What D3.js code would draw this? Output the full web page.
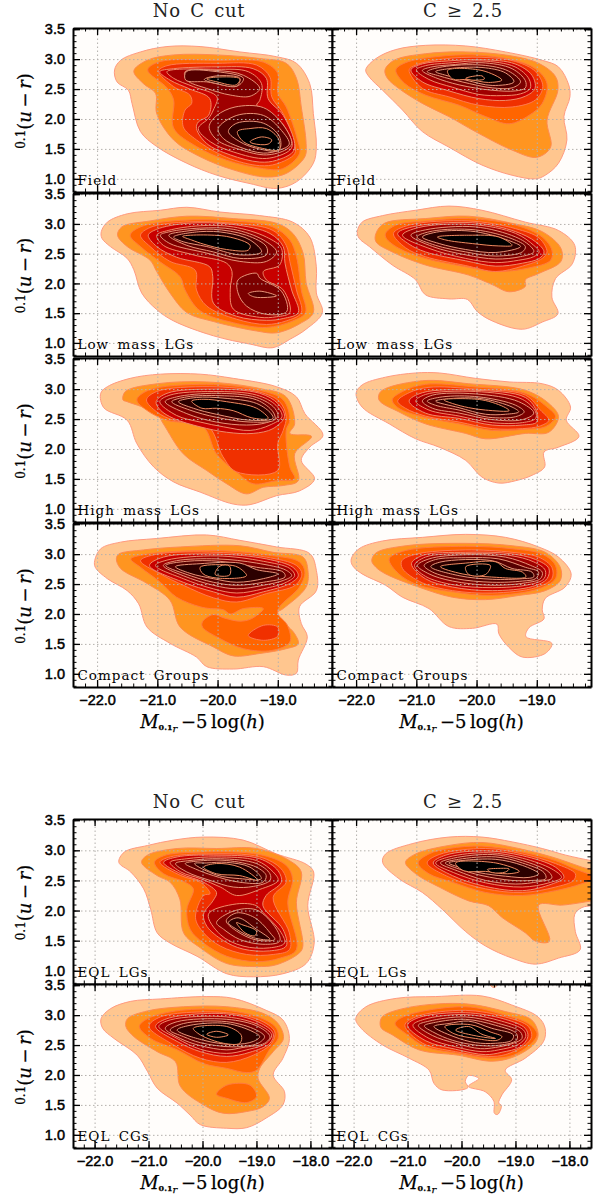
<!DOCTYPE html>
<html>
<head>
<meta charset="utf-8">
<script src="https://d3js.org/d3.v7.min.js"></script>
<style>
  html, body { margin: 0; padding: 0; background: #fff; }
  svg { display: block; }
  .tick-label text { font-family: "Liberation Sans", sans-serif; font-size: 14.5px; fill: #000; stroke: #000; stroke-width: 0.5px; }
  .title { font-family: "DejaVu Serif", serif; font-size: 18px; fill: #222; word-spacing: 3px; letter-spacing: 0.7px; }
  .panel-name { font-family: "DejaVu Serif", serif; font-size: 13.5px; fill: #000; word-spacing: 3px; letter-spacing: 1px; }
  .axis-title { font-family: "DejaVu Serif", serif; font-size: 18px; fill: #000; stroke: #000; stroke-width: 0.25px; }
</style>
</head>
<body>
<div id="chart"></div>
<script>
// Contour levels. Every entry is [level, [mag, colour, mag, colour, ...]]
var fieldAll = [
  [0, [-21.71,2.82,-21.61,2.98,-21.28,3.12,-20.84,3.21,-20.29,3.21,-19.63,3.12,-19.02,3.04,-18.69,2.93,-18.47,2.59,-18.41,2.09,-18.36,1.54,-18.41,1.26,-18.69,0.95,-19.02,0.84,-19.46,0.92,-20.01,1.06,-20.51,1.26,-21.01,1.54,-21.28,1.79,-21.42,2.26,-21.48,2.48,-21.67,2.62]],
  [1, [-21.39,2.80,-21.17,2.98,-20.73,3.07,-20.01,3.07,-19.30,3.01,-18.86,2.93,-18.69,2.68,-18.61,2.20,-18.53,1.59,-18.55,1.37,-18.86,1.09,-19.19,1.03,-19.74,1.15,-20.29,1.37,-20.73,1.65,-21.01,2.09,-21.03,2.43,-21.23,2.59]],
  [2, [-21.16,2.82,-20.95,2.96,-20.01,2.98,-19.24,2.95,-19.0,2.76,-19.0,2.43,-18.86,2.2,-18.67,1.64,-18.64,1.42,-18.92,1.17,-19.24,1.17,-19.85,1.31,-20.35,1.54,-20.73,1.85,-20.73,2.32,-20.84,2.52]],
  [3, [-20.98,2.80,-20.84,2.89,-20.01,2.93,-19.35,2.90,-19.13,2.70,-19.1,2.37,-18.91,2.09,-18.72,1.59,-18.72,1.42,-19.02,1.25,-19.3,1.22,-19.85,1.36,-20.35,1.65,-20.57,1.87,-20.54,2.15,-20.43,2.26,-20.46,2.4,-20.73,2.54]],
  [4, [-20.96,2.79,-20.73,2.84,-20.01,2.87,-19.41,2.84,-19.19,2.68,-19.16,2.34,-18.91,2.06,-18.72,1.59,-18.75,1.45,-19.02,1.31,-19.30,1.28,-19.79,1.4,-20.18,1.59,-20.35,1.84,-20.32,1.95,-20.15,2.06,-20.13,2.34,-20.46,2.5,-20.79,2.65]],
  [5, [-20.84,2.79,-20.01,2.83,-19.49,2.79,-19.27,2.59,-19.3,2.31,-19.35,2.23,-18.97,1.98,-18.76,1.59,-18.8,1.48,-19.19,1.34,-19.74,1.45,-20.12,1.62,-20.32,1.84,-20.15,2.01,-20.07,2.15,-20.01,2.37,-20.4,2.54,-20.73,2.68]],
  [6, [-20.54,2.79,-20.01,2.81,-19.57,2.73,-19.3,2.51,-19.46,2.38,-19.79,2.4,-20.18,2.51,-20.51,2.65]],
  [6, [-20.14,1.87,-20.01,2.06,-19.71,2.2,-19.24,2.19,-18.91,1.9,-18.77,1.59,-18.86,1.49,-19.19,1.4,-19.63,1.49,-20.01,1.65]],
  [7, [-20.52,2.79,-20.01,2.79,-19.57,2.68,-19.67,2.55,-20.18,2.62,-20.53,2.65]],
  [7, [-19.99,1.84,-19.68,2.06,-19.24,2.06,-18.94,1.81,-18.81,1.58,-18.97,1.48,-19.24,1.43,-19.63,1.53,-19.9,1.67]],
  [8, [-20.22,2.66,-20.01,2.72,-19.63,2.68,-19.68,2.55,-20.01,2.59]],
  [8, [-19.82,1.79,-19.68,1.93,-19.24,1.93,-18.97,1.7,-18.98,1.48,-19.35,1.51,-19.63,1.62]],
  [9, [-20.18,2.67,-20.01,2.7,-19.63,2.67,-19.69,2.57,-20.01,2.62]],
  [9, [-19.67,1.79,-19.46,1.84,-19.19,1.84,-18.99,1.67,-18.98,1.49,-19.3,1.52,-19.57,1.62]],
  [9, [-19.46,1.62,-19.27,1.7,-19.1,1.65,-19.16,1.58,-19.41,1.59]]
];
var fieldCut = [
  [0, [-21.84,2.82,-21.67,3.01,-21.34,3.16,-20.85,3.23,-20.18,3.22,-19.52,3.12,-18.91,2.98,-18.64,2.87,-18.47,2.57,-18.45,2.37,-18.55,2.04,-18.5,1.65,-18.64,1.26,-18.86,1.06,-19.02,1.0,-19.41,1.06,-19.91,1.23,-20.46,1.53,-20.9,1.79,-21.23,2.15,-21.56,2.48,-21.78,2.7]],
  [1, [-21.52,2.82,-21.37,2.98,-20.85,3.09,-20.18,3.12,-19.46,3.06,-18.97,2.93,-18.69,2.71,-18.65,2.48,-18.83,1.98,-18.77,1.53,-19.0,1.36,-19.41,1.48,-20.02,1.79,-20.46,2.04,-20.9,2.26,-21.29,2.51,-21.48,2.68]],
  [2, [-21.34,2.82,-21.18,2.94,-20.68,3.04,-20.02,3.07,-19.41,2.99,-19.02,2.84,-18.83,2.59,-18.91,2.26,-19.13,2.06,-19.46,1.92,-19.85,2.04,-20.29,2.23,-20.85,2.4,-21.2,2.6]],
  [3, [-21.12,2.82,-21.01,2.9,-20.57,3.0,-19.91,3.03,-19.35,2.96,-19.02,2.79,-18.9,2.54,-19.02,2.32,-19.41,2.2,-19.96,2.23,-20.46,2.37,-20.9,2.51]],
  [4, [-21.09,2.82,-20.9,2.92,-20.46,2.97,-19.91,2.99,-19.36,2.92,-19.08,2.73,-19.03,2.51,-19.19,2.38,-19.52,2.31,-19.96,2.34,-20.46,2.47,-20.9,2.62]],
  [5, [-21.0,2.82,-20.85,2.89,-20.4,2.94,-19.91,2.97,-19.36,2.87,-19.13,2.67,-19.11,2.51,-19.27,2.42,-19.58,2.39,-19.96,2.41,-20.4,2.53,-20.79,2.66]],
  [6, [-20.9,2.81,-20.74,2.87,-20.35,2.91,-19.91,2.94,-19.41,2.84,-19.19,2.64,-19.19,2.52,-19.35,2.47,-19.74,2.48,-20.29,2.57,-20.68,2.69]],
  [7, [-20.82,2.79,-20.57,2.87,-19.91,2.9,-19.47,2.8,-19.27,2.62,-19.41,2.52,-19.74,2.52,-20.24,2.62,-20.62,2.72]],
  [8, [-20.68,2.79,-20.46,2.84,-19.91,2.86,-19.52,2.77,-19.38,2.62,-19.74,2.56,-20.18,2.65,-20.51,2.73]],
  [9, [-20.48,2.81,-19.91,2.81,-19.58,2.65,-19.8,2.61,-20.13,2.66,-20.4,2.67]],
  [9, [-20.18,2.68,-19.91,2.72,-19.87,2.67,-20.07,2.65]]
];
var lowAll = [
  [0, [-21.93,2.87,-21.83,3.03,-21.5,3.17,-20.95,3.23,-20.51,3.28,-19.96,3.2,-19.3,3.14,-18.75,3.03,-18.47,2.78,-18.36,2.28,-18.36,1.84,-18.26,1.51,-18.53,1.23,-18.8,1.06,-19.08,0.92,-19.46,0.98,-20.07,1.12,-20.73,1.37,-21.01,1.56,-21.26,1.84,-21.39,2.23,-21.5,2.42,-21.78,2.62,-21.92,2.76]],
  [1, [-21.66,2.81,-21.59,2.95,-21.12,3.05,-20.51,3.13,-19.74,3.09,-19.02,3.01,-18.75,2.84,-18.58,2.51,-18.53,2.01,-18.41,1.51,-18.64,1.32,-19.02,1.17,-19.35,1.2,-20.07,1.36,-20.51,1.51,-20.79,1.84,-21.01,2.2,-21.12,2.39,-21.5,2.62]],
  [2, [-21.45,2.81,-21.28,2.95,-20.62,3.06,-19.74,3.05,-19.08,2.95,-18.8,2.73,-18.69,2.45,-18.61,1.89,-18.54,1.51,-18.75,1.37,-19.19,1.26,-19.74,1.34,-20.29,1.54,-20.54,1.89,-20.62,2.11,-20.95,2.36,-21.28,2.62]],
  [3, [-21.28,2.81,-21.12,2.94,-20.57,3.03,-19.74,3.01,-19.08,2.89,-18.86,2.64,-18.8,2.37,-18.69,1.89,-18.61,1.51,-18.86,1.37,-19.19,1.31,-19.69,1.4,-20.18,1.62,-20.35,1.89,-20.37,2.22,-20.79,2.37,-21.12,2.62]],
  [4, [-21.15,2.81,-21.01,2.91,-20.51,3.01,-19.74,2.99,-19.13,2.84,-18.91,2.62,-18.88,2.34,-18.77,1.89,-18.66,1.51,-18.91,1.41,-19.19,1.38,-19.69,1.45,-20.07,1.67,-20.08,2.12,-20.13,2.28,-20.68,2.44,-21.01,2.62]],
  [5, [-21.01,2.81,-20.82,2.89,-20.29,2.97,-19.74,2.95,-19.19,2.78,-18.94,2.59,-18.97,2.31,-19.24,2.2,-19.19,2.06,-18.91,1.89,-18.8,1.51,-19.02,1.44,-19.3,1.43,-19.74,1.57,-19.79,1.89,-19.76,2.2,-19.85,2.34,-20.4,2.48,-20.9,2.64]],
  [6, [-20.95,2.81,-20.79,2.87,-20.29,2.93,-19.74,2.91,-19.24,2.73,-19.02,2.53,-19.19,2.37,-19.63,2.37,-20.18,2.51,-20.79,2.67]],
  [6, [-19.66,2.06,-19.35,2.17,-19.3,2.09,-18.94,1.87,-18.85,1.53,-19.19,1.48,-19.52,1.62,-19.66,1.84]],
  [7, [-19.49,1.83,-19.3,1.87,-19.02,1.79,-19.38,1.77]],
  [7, [-20.81,2.81,-20.51,2.88,-20.07,2.91,-19.52,2.81,-19.19,2.62,-19.19,2.48,-19.63,2.42,-20.07,2.53,-20.51,2.64]],
  [8, [-20.73,2.78,-20.29,2.87,-19.85,2.85,-19.46,2.73,-19.27,2.53,-19.63,2.48,-20.18,2.62,-20.57,2.7]],
  [9, [-20.58,2.79,-19.85,2.79,-19.46,2.64,-19.49,2.56,-19.85,2.57,-20.23,2.66,-20.43,2.73]]
];
var lowCut = [
  [0, [-21.98,2.87,-21.9,3.03,-21.56,3.14,-21.01,3.23,-20.46,3.3,-19.91,3.23,-19.19,3.03,-18.64,2.89,-18.37,2.64,-18.41,2.33,-18.69,2.08,-18.75,1.77,-18.65,1.49,-18.91,1.35,-19.24,1.23,-19.74,1.37,-19.99,1.53,-20.15,1.73,-20.46,1.74,-20.85,1.81,-21.01,2.06,-21.4,2.31,-21.78,2.62,-21.95,2.76]],
  [1, [-21.67,2.84,-21.53,3.01,-20.85,3.09,-20.13,3.13,-19.41,3.01,-18.91,2.87,-18.6,2.59,-18.6,2.37,-18.96,2.17,-19.19,2.06,-19.19,1.95,-19.46,1.86,-19.74,1.98,-20.13,2.14,-20.85,2.31,-21.4,2.53,-21.67,2.7]],
  [2, [-21.51,2.84,-21.34,2.98,-20.85,3.05,-20.13,3.09,-19.35,2.98,-18.91,2.78,-18.75,2.56,-18.77,2.39,-19.13,2.26,-19.68,2.2,-20.18,2.28,-20.85,2.42,-21.29,2.59,-21.5,2.76]],
  [3, [-21.38,2.84,-21.12,2.98,-20.13,3.05,-19.35,2.92,-18.96,2.76,-18.83,2.53,-18.91,2.42,-19.24,2.29,-19.68,2.2,-20.18,2.3,-20.85,2.45,-21.18,2.6]],
  [4, [-21.31,2.84,-21.07,2.95,-20.07,3.02,-19.35,2.87,-19.02,2.7,-18.88,2.53,-18.96,2.42,-19.24,2.34,-19.68,2.29,-20.18,2.38,-20.85,2.53,-21.12,2.66]],
  [5, [-21.23,2.81,-20.96,2.94,-20.07,2.99,-19.35,2.84,-19.05,2.64,-18.96,2.53,-19.05,2.45,-19.3,2.39,-19.68,2.35,-20.18,2.42,-20.79,2.59]],
  [6, [-21.09,2.81,-20.85,2.9,-20.02,2.95,-19.35,2.78,-19.1,2.62,-19.05,2.53,-19.27,2.45,-19.68,2.41,-20.18,2.48,-20.73,2.62]],
  [7, [-20.99,2.78,-20.73,2.88,-20.02,2.9,-19.41,2.75,-19.19,2.62,-19.24,2.53,-19.68,2.46,-20.18,2.53,-20.68,2.64]],
  [8, [-20.9,2.78,-20.62,2.87,-20.02,2.87,-19.41,2.7,-19.27,2.62,-19.68,2.52,-20.18,2.57,-20.62,2.67]],
  [9, [-20.65,2.78,-20.13,2.81,-19.63,2.78,-19.41,2.64,-19.63,2.63,-20.07,2.67,-20.51,2.73]]
];
var highAll = [
  [0, [-21.94,2.93,-21.83,3.04,-21.45,3.18,-20.95,3.25,-20.29,3.25,-19.74,3.18,-19.02,3.04,-18.69,2.87,-18.55,2.59,-18.25,2.23,-18.47,2.03,-18.61,1.81,-18.39,1.5,-18.64,1.3,-19.02,1.22,-19.46,1.07,-19.74,1.08,-20.29,1.28,-20.73,1.45,-21.06,1.7,-21.34,2.09,-21.5,2.48,-21.89,2.69]],
  [1, [-21.57,2.82,-21.53,2.96,-21.0,3.09,-20.18,3.12,-19.3,3.01,-18.86,2.87,-18.72,2.42,-18.8,2.26,-18.44,2.21,-18.72,1.92,-18.66,1.47,-18.91,1.39,-19.24,1.36,-19.52,1.25,-19.85,1.42,-20.18,1.64,-20.57,1.92,-20.9,2.42,-21.01,2.59,-21.5,2.79]],
  [2, [-21.34,2.82,-21.15,2.98,-20.18,3.08,-19.3,2.98,-18.91,2.82,-18.8,2.48,-18.86,2.31,-18.8,1.7,-18.72,1.5,-19.02,1.47,-19.41,1.42,-19.69,1.62,-20.02,1.92,-20.24,2.37,-20.84,2.48,-21.18,2.65]],
  [3, [-21.18,2.82,-21.01,2.96,-20.13,3.04,-19.3,2.95,-18.97,2.79,-18.86,2.54,-18.91,2.31,-19.0,2.09,-19.0,1.64,-19.69,1.62,-19.91,1.87,-20.15,2.37,-20.73,2.48,-21.01,2.62]],
  [4, [-21.02,2.79,-20.84,2.93,-20.07,3.0,-19.3,2.93,-19.0,2.76,-18.89,2.54,-19.08,2.34,-19.41,2.26,-19.85,2.28,-20.29,2.37,-20.73,2.51,-20.95,2.65]],
  [5, [-20.96,2.79,-20.79,2.9,-20.07,2.96,-19.35,2.9,-19.03,2.73,-18.93,2.54,-19.13,2.4,-19.46,2.31,-19.9,2.37,-20.29,2.45,-20.68,2.56]],
  [6, [-20.87,2.79,-20.68,2.87,-20.02,2.93,-19.35,2.86,-19.05,2.68,-19.0,2.54,-19.19,2.44,-19.52,2.4,-20.02,2.45,-20.51,2.59]],
  [7, [-20.76,2.79,-20.51,2.87,-19.96,2.89,-19.35,2.82,-19.08,2.62,-19.05,2.49,-19.46,2.45,-20.02,2.53,-20.46,2.65]],
  [8, [-20.65,2.79,-20.35,2.86,-19.91,2.85,-19.35,2.76,-19.11,2.59,-19.08,2.51,-19.46,2.48,-20.02,2.58,-20.4,2.68]],
  [9, [-20.43,2.8,-20.24,2.83,-19.85,2.79,-19.35,2.68,-19.16,2.51,-19.43,2.52,-19.74,2.64,-20.02,2.68,-20.26,2.68]]
];
var highCut = [
  [0, [-22.0,2.93,-21.9,3.07,-21.51,3.2,-21.01,3.27,-20.62,3.27,-20.02,3.18,-19.46,3.12,-18.91,3.09,-18.64,2.98,-18.44,2.7,-18.51,2.48,-18.3,2.21,-18.64,2.03,-18.88,1.95,-18.87,1.7,-19.08,1.56,-19.35,1.47,-19.63,1.43,-19.91,1.53,-20.18,1.81,-20.62,2.03,-21.01,2.17,-21.45,2.42,-21.9,2.7]],
  [1, [-21.62,2.82,-21.59,2.96,-20.9,3.14,-20.13,3.09,-19.19,2.98,-18.8,2.76,-18.64,2.54,-18.8,2.28,-19.19,2.26,-19.85,2.17,-20.18,2.26,-20.85,2.42,-21.29,2.62]],
  [2, [-21.4,2.82,-21.23,2.96,-20.85,3.08,-20.07,3.04,-19.19,2.93,-18.83,2.7,-18.69,2.54,-18.86,2.37,-19.19,2.33,-19.74,2.31,-20.29,2.42,-20.9,2.54,-21.29,2.68]],
  [3, [-21.31,2.8,-21.12,2.94,-20.79,3.03,-20.02,3.0,-19.19,2.9,-18.94,2.65,-18.8,2.48,-18.96,2.38,-19.24,2.34,-19.74,2.34,-20.29,2.45,-20.85,2.55,-21.18,2.68]],
  [4, [-21.12,2.8,-20.9,2.94,-20.02,2.98,-19.19,2.86,-19.0,2.62,-19.0,2.45,-19.24,2.4,-19.74,2.4,-20.29,2.51,-20.85,2.6]],
  [5, [-21.01,2.8,-20.85,2.91,-20.02,2.96,-19.24,2.83,-19.02,2.62,-19.02,2.51,-19.24,2.44,-19.74,2.44,-20.29,2.55,-20.79,2.65]],
  [6, [-20.9,2.8,-20.73,2.9,-20.02,2.92,-19.3,2.79,-19.05,2.6,-19.24,2.49,-19.74,2.49,-20.29,2.6,-20.73,2.68]],
  [7, [-20.82,2.8,-20.57,2.87,-19.96,2.87,-19.35,2.73,-19.21,2.62,-19.35,2.54,-19.8,2.53,-20.29,2.65,-20.68,2.73]],
  [8, [-20.68,2.8,-20.46,2.84,-19.91,2.84,-19.41,2.7,-19.3,2.62,-19.52,2.58,-19.85,2.58,-20.29,2.69]],
  [9, [-20.54,2.82,-19.91,2.82,-19.52,2.69,-19.46,2.64,-19.85,2.65,-20.13,2.69,-20.4,2.76]]
];
var compactAll = [
  [0, [-22.04,2.89,-21.94,3.09,-21.61,3.2,-21.02,3.26,-20.18,3.32,-19.63,3.23,-19.02,3.12,-18.47,3.01,-18.36,2.73,-18.36,2.39,-18.64,2.12,-18.61,1.84,-18.51,1.62,-18.66,1.23,-18.69,1.01,-18.86,0.98,-19.24,1.12,-19.74,1.08,-20.18,1.12,-20.35,1.28,-20.79,1.51,-21.17,1.78,-21.31,2.17,-21.5,2.39,-21.83,2.59,-22.03,2.78]],
  [1, [-21.68,2.92,-21.64,3.0,-21.23,3.07,-20.62,3.12,-19.63,3.14,-19.08,3.03,-18.58,2.95,-18.5,2.73,-18.53,2.45,-18.91,2.09,-19.02,2.01,-18.72,1.67,-18.66,1.5,-18.86,1.42,-19.3,1.34,-19.74,1.3,-20.07,1.45,-20.62,1.78,-20.79,2.23,-21.17,2.51,-21.61,2.76]],
  [2, [-21.44,2.92,-21.28,2.98,-20.9,3.03,-20.01,3.06,-19.13,2.98,-18.64,2.87,-18.55,2.7,-18.64,2.45,-18.97,2.12,-19.0,2.01,-18.84,1.81,-18.8,1.53,-19.1,1.39,-19.57,1.42,-19.96,1.59,-20.25,1.78,-20.25,1.87,-20.07,1.99,-19.88,1.93,-19.63,1.88,-19.44,1.92,-19.24,2.09,-19.57,2.09,-19.79,2.0,-19.9,2.07,-20.12,2.09,-20.29,2.12,-20.68,2.28,-20.95,2.53,-21.28,2.78]],
  [3, [-21.28,2.89,-21.0,3.0,-20.01,3.03,-19.19,2.95,-18.69,2.81,-18.6,2.67,-18.71,2.48,-19.19,2.34,-19.68,2.2,-20.07,2.27,-20.57,2.48,-20.95,2.67]],
  [3, [-19.49,1.64,-19.24,1.81,-19.0,1.78,-19.0,1.63,-19.24,1.56]],
  [4, [-21.13,2.81,-20.9,2.95,-20.01,3.0,-19.19,2.92,-18.75,2.78,-18.66,2.64,-18.8,2.51,-19.24,2.37,-19.68,2.28,-20.07,2.37,-20.57,2.53]],
  [5, [-21.03,2.81,-20.84,2.9,-20.01,2.97,-19.24,2.88,-18.8,2.76,-18.72,2.64,-18.86,2.53,-19.24,2.42,-19.68,2.35,-20.07,2.42,-20.57,2.59]],
  [6, [-20.9,2.81,-20.68,2.89,-20.01,2.92,-19.35,2.85,-18.86,2.73,-18.77,2.64,-18.91,2.56,-19.24,2.48,-19.68,2.42,-20.07,2.48,-20.57,2.64]],
  [7, [-20.86,2.81,-20.51,2.88,-19.96,2.88,-19.35,2.78,-18.91,2.7,-18.88,2.62,-19.24,2.53,-19.68,2.48,-20.07,2.53,-20.54,2.67]],
  [8, [-20.7,2.79,-20.29,2.84,-19.63,2.85,-19.35,2.74,-19.0,2.67,-19.24,2.59,-19.68,2.53,-20.07,2.59,-20.46,2.68]],
  [9, [-20.29,2.78,-19.85,2.82,-19.66,2.78,-19.52,2.64,-20.01,2.6,-20.24,2.67]],
  [9, [-20.04,2.66,-19.96,2.8,-19.8,2.8,-19.8,2.65]]
];
var compactCut = [
  [0, [-22.08,2.92,-21.95,3.09,-21.56,3.22,-20.9,3.28,-20.18,3.33,-19.52,3.28,-18.97,3.12,-18.64,2.95,-18.43,2.67,-18.53,2.45,-18.86,2.26,-18.91,2.07,-18.88,1.92,-19.13,1.77,-19.18,1.62,-18.75,1.51,-18.86,1.34,-19.24,1.28,-19.46,1.44,-19.63,1.67,-19.66,1.83,-20.07,1.76,-20.46,1.79,-20.79,2.09,-21.23,2.28,-21.51,2.48,-21.9,2.67,-22.06,2.81]],
  [1, [-21.74,2.89,-21.67,3.02,-21.17,3.14,-20.18,3.18,-19.41,3.14,-18.86,3.03,-18.61,2.78,-18.61,2.56,-18.86,2.39,-19.3,2.31,-19.85,2.24,-20.4,2.28,-20.96,2.45,-21.51,2.67,-21.67,2.78]],
  [2, [-21.45,2.92,-21.18,3.06,-20.18,3.13,-19.41,3.09,-18.91,3.0,-18.69,2.81,-18.69,2.59,-18.97,2.42,-19.74,2.31,-20.4,2.37,-20.96,2.48,-21.29,2.67]],
  [3, [-21.24,2.89,-21.0,3.0,-20.18,3.07,-19.41,3.03,-18.97,2.95,-18.75,2.78,-18.75,2.59,-19.02,2.44,-19.74,2.35,-20.4,2.39,-20.9,2.52,-21.23,2.76]],
  [4, [-21.08,2.84,-20.89,2.98,-20.18,3.03,-19.46,3.01,-19.02,2.91,-18.8,2.76,-18.83,2.59,-19.07,2.46,-19.74,2.39,-20.4,2.45,-20.85,2.59]],
  [5, [-21.03,2.81,-20.85,2.95,-20.18,3.01,-19.46,2.98,-19.05,2.87,-18.86,2.73,-18.88,2.59,-19.13,2.49,-19.74,2.44,-20.4,2.49,-20.85,2.63]],
  [6, [-20.98,2.81,-20.79,2.92,-20.18,2.99,-19.52,2.95,-19.1,2.81,-18.91,2.7,-18.94,2.59,-19.19,2.52,-19.74,2.48,-20.4,2.55,-20.79,2.67]],
  [7, [-20.87,2.81,-20.68,2.91,-20.18,2.94,-19.63,2.92,-19.19,2.78,-18.97,2.7,-19.02,2.59,-19.24,2.55,-19.74,2.53,-20.35,2.59,-20.73,2.7]],
  [8, [-20.76,2.79,-20.59,2.87,-19.74,2.89,-19.41,2.76,-19.08,2.7,-19.05,2.62,-19.24,2.59,-19.74,2.58,-20.29,2.64]],
  [9, [-20.6,2.79,-20.18,2.85,-19.68,2.87,-19.52,2.76,-19.24,2.7,-19.18,2.62,-19.79,2.62,-20.24,2.67]],
  [9, [-20.18,2.79,-19.77,2.81,-19.85,2.66,-20.13,2.66]]
];
var eqlLgAll = [
  [0, [-21.55,2.8,-21.45,2.97,-21.02,3.08,-20.53,3.17,-19.98,3.22,-19.25,3.17,-18.63,2.94,-18.08,2.77,-17.94,2.64,-18.05,2.08,-17.93,1.46,-18.08,1.12,-18.51,0.95,-19.06,0.9,-19.55,0.95,-20.1,1.24,-20.6,1.46,-20.84,1.63,-20.96,2.02,-21.09,2.36,-21.33,2.64]],
  [1, [-21.13,2.8,-21.02,2.92,-20.47,3.03,-19.74,3.03,-19.0,3.03,-18.39,2.83,-18.17,2.64,-18.26,2.13,-18.14,1.41,-18.2,1.3,-18.63,1.1,-19.0,1.07,-19.55,1.12,-20.04,1.38,-20.35,1.63,-20.42,2.19,-20.6,2.47,-20.84,2.58]],
  [2, [-20.89,2.8,-20.72,2.91,-20.04,2.97,-18.94,2.93,-18.45,2.75,-18.33,2.53,-18.42,2.13,-18.26,1.35,-18.56,1.21,-19.0,1.15,-19.55,1.24,-19.98,1.46,-20.23,1.69,-20.29,2.02,-20.17,2.36,-20.32,2.47,-20.72,2.61]],
  [3, [-20.79,2.8,-20.6,2.89,-19.92,2.94,-18.94,2.89,-18.54,2.69,-18.45,2.47,-18.69,2.22,-18.39,1.63,-18.39,1.35,-18.69,1.27,-19.18,1.27,-19.67,1.41,-19.98,1.63,-20.13,1.88,-19.98,2.25,-19.86,2.28,-20.04,2.47,-20.4,2.58]],
  [4, [-20.72,2.8,-20.47,2.89,-19.8,2.92,-18.94,2.86,-18.6,2.66,-18.54,2.47,-18.82,2.25,-18.88,2.08,-18.51,1.69,-18.45,1.41,-18.76,1.33,-19.25,1.36,-19.61,1.5,-19.92,1.74,-19.98,1.94,-19.8,2.17,-19.74,2.3,-19.98,2.47,-20.4,2.61]],
  [5, [-20.6,2.8,-20.29,2.86,-19.74,2.89,-19.0,2.83,-18.69,2.64,-18.6,2.5,-18.94,2.35,-19.37,2.25,-19.67,2.39,-20.04,2.53,-20.4,2.64]],
  [5, [-19.89,1.94,-19.37,2.11,-19.0,2.08,-18.88,1.97,-18.54,1.63,-18.48,1.46,-18.76,1.38,-19.25,1.41,-19.67,1.6]],
  [6, [-20.5,2.78,-20.23,2.83,-19.67,2.86,-19.0,2.78,-18.75,2.61,-18.75,2.5,-19.06,2.4,-19.43,2.39,-19.86,2.5,-20.29,2.64]],
  [6, [-19.74,1.8,-19.43,1.99,-19.0,2.01,-18.63,1.69,-18.57,1.49,-18.88,1.44,-19.31,1.52,-19.61,1.69]],
  [7, [-20.32,2.78,-20.1,2.82,-19.55,2.83,-19.0,2.72,-18.82,2.58,-18.88,2.47,-19.31,2.47,-19.8,2.58,-20.13,2.69]],
  [7, [-19.56,1.83,-19.37,1.96,-19.03,1.88,-18.72,1.6,-18.66,1.52,-19.0,1.51,-19.37,1.66]],
  [8, [-20.15,2.78,-19.92,2.79,-19.55,2.8,-19.12,2.72,-18.91,2.53,-19.31,2.53,-19.74,2.59]],
  [8, [-19.52,1.8,-19.34,1.88,-19.0,1.69,-18.75,1.52,-19.06,1.55,-19.37,1.69]],
  [9, [-19.98,2.72,-19.74,2.78,-19.31,2.72,-18.97,2.5,-19.31,2.58,-19.74,2.61]],
  [9, [-19.37,1.8,-19.28,1.77,-19.0,1.66,-19.03,1.58,-19.21,1.63]]
];
var eqlLgCut = [
  [0, [-21.56,2.8,-21.51,2.94,-21.07,3.11,-20.46,3.22,-19.91,3.22,-19.41,3.14,-18.91,3.03,-18.52,2.92,-18.1,2.83,-17.9,2.8,-17.9,2.1,-18.08,2.08,-18.25,2.05,-18.37,1.94,-18.36,1.65,-18.28,1.35,-18.64,1.21,-19.02,1.11,-19.41,1.21,-19.85,1.41,-20.18,1.65,-20.57,2.02,-20.9,2.3,-21.29,2.53]],
  [1, [-21.18,2.8,-21.01,2.94,-20.46,3.08,-19.91,3.13,-19.3,3.03,-18.75,2.89,-18.25,2.72,-17.9,2.6,-17.9,2.18,-18.08,2.16,-18.58,2.09,-18.97,2.09,-18.79,1.49,-19.02,1.49,-19.19,1.63,-19.57,1.88,-19.8,2.08,-20.13,2.16,-20.62,2.39,-21.01,2.61]],
  [2, [-20.97,2.79,-20.79,2.94,-20.46,3.03,-19.91,3.07,-19.24,2.97,-18.69,2.83,-18.36,2.69,-18.1,2.6,-17.9,2.58,-18.1,2.5,-18.36,2.41,-18.69,2.33,-19.24,2.25,-19.85,2.3,-20.4,2.47,-20.79,2.61]],
  [3, [-20.82,2.79,-20.62,2.93,-19.85,3.03,-19.24,2.94,-18.69,2.78,-18.36,2.61,-18.39,2.5,-18.69,2.39,-19.24,2.3,-19.85,2.36,-20.4,2.53]],
  [4, [-20.72,2.79,-20.51,2.92,-19.85,2.99,-19.24,2.91,-18.69,2.72,-18.55,2.55,-18.75,2.44,-19.24,2.33,-19.85,2.4,-20.4,2.58]],
  [5, [-20.68,2.79,-20.46,2.89,-19.8,2.96,-19.24,2.87,-18.75,2.69,-18.59,2.55,-18.8,2.46,-19.24,2.39,-19.85,2.46,-20.38,2.63]],
  [6, [-20.6,2.79,-20.38,2.87,-19.74,2.93,-19.24,2.83,-18.8,2.64,-18.75,2.54,-18.97,2.48,-19.35,2.44,-19.85,2.5,-20.32,2.66]],
  [7, [-20.52,2.79,-20.3,2.85,-19.68,2.89,-19.24,2.79,-18.88,2.63,-18.85,2.53,-19.08,2.5,-19.41,2.5,-19.91,2.58,-20.29,2.69]],
  [8, [-20.46,2.79,-20.24,2.83,-19.68,2.85,-19.24,2.75,-18.97,2.61,-19.13,2.55,-19.52,2.57,-19.96,2.63,-20.29,2.72]],
  [9, [-20.35,2.79,-19.68,2.79,-19.29,2.65,-19.49,2.61,-19.85,2.65,-20.21,2.66]],
  [9, [-19.82,2.68,-19.63,2.7,-19.46,2.69,-19.52,2.64,-19.74,2.63]]
];
var eqlCgAll = [
  [0, [-21.88,2.94,-21.7,3.11,-21.33,3.23,-20.78,3.27,-19.92,3.31,-19.43,3.28,-18.82,3.08,-18.51,2.92,-18.39,2.61,-18.51,2.28,-18.69,2.0,-18.48,1.72,-18.51,1.5,-18.82,1.28,-19.18,1.12,-19.55,1.11,-20.04,1.17,-20.23,1.33,-20.47,1.53,-20.84,1.78,-21.02,2.06,-21.21,2.33,-21.64,2.61,-21.85,2.78]],
  [1, [-21.42,2.81,-21.39,2.94,-21.02,3.07,-20.35,3.14,-19.55,3.14,-18.88,3.03,-18.6,2.86,-18.5,2.61,-18.69,2.39,-18.94,2.11,-18.97,1.94,-18.76,1.61,-18.88,1.47,-19.18,1.39,-19.61,1.36,-19.98,1.5,-20.41,1.81,-20.5,2.22,-20.84,2.39,-21.27,2.64]],
  [2, [-21.17,2.81,-21.02,2.94,-20.41,3.08,-19.55,3.08,-18.88,2.94,-18.63,2.78,-18.6,2.61,-18.76,2.42,-19.0,2.08,-19.18,2.04,-19.55,2.11,-19.98,2.19,-20.47,2.42,-20.96,2.61]],
  [2, [-19.74,1.68,-19.55,1.83,-19.12,1.83,-19.0,1.64,-19.18,1.54,-19.55,1.61]],
  [3, [-20.99,2.81,-20.78,2.97,-19.55,3.04,-18.88,2.89,-18.66,2.72,-18.72,2.53,-19.06,2.33,-19.55,2.21,-20.04,2.28,-20.53,2.5]],
  [4, [-20.87,2.81,-20.66,2.94,-19.55,3.02,-18.91,2.86,-18.69,2.69,-18.75,2.53,-19.12,2.38,-19.55,2.31,-20.04,2.39,-20.47,2.56]],
  [5, [-20.81,2.81,-20.6,2.92,-19.55,2.97,-18.94,2.83,-18.72,2.67,-18.82,2.53,-19.18,2.42,-19.55,2.36,-20.04,2.43,-20.47,2.61]],
  [6, [-20.69,2.78,-20.47,2.89,-19.55,2.93,-18.97,2.81,-18.75,2.64,-18.85,2.53,-19.25,2.46,-19.55,2.42,-20.04,2.49,-20.41,2.61]],
  [7, [-20.6,2.75,-20.35,2.86,-19.55,2.89,-19.0,2.75,-18.85,2.64,-18.97,2.53,-19.43,2.47,-20.04,2.54,-20.35,2.64]],
  [8, [-20.47,2.75,-20.23,2.83,-19.55,2.86,-19.06,2.72,-18.94,2.64,-19.06,2.56,-19.43,2.51,-19.98,2.58]],
  [9, [-20.17,2.78,-19.55,2.81,-19.28,2.66,-19.31,2.53,-19.61,2.53,-20.04,2.67]],
  [9, [-19.92,2.68,-19.74,2.73,-19.52,2.67,-19.74,2.63]]
];
var eqlCgCut = [
  [0, [-19.51,3.56,-19.3,3.56,-19.4,3.46]],
  [0, [-21.96,2.94,-21.77,3.14,-21.21,3.28,-20.48,3.31,-19.62,3.32,-19.07,3.17,-18.58,2.97,-18.45,2.78,-18.48,2.56,-18.82,2.28,-19.19,2.08,-19.07,1.92,-19.25,1.67,-19.31,1.53,-19.26,1.49,-19.33,1.34,-19.39,1.36,-19.4,1.56,-19.56,1.72,-19.87,1.81,-19.68,1.94,-19.87,1.99,-19.93,1.89,-19.88,1.79,-20.36,1.75,-20.51,1.86,-20.6,2.08,-20.97,2.28,-21.46,2.5,-21.86,2.78]],
  [1, [-21.5,2.92,-21.43,3.0,-20.91,3.14,-19.93,3.19,-19.19,3.06,-18.7,2.92,-18.58,2.69,-18.64,2.53,-19.01,2.31,-19.44,2.23,-20.06,2.33,-20.79,2.42,-21.28,2.67,-21.49,2.79]],
  [2, [-21.23,2.86,-21.03,2.99,-19.93,3.14,-19.19,3.0,-18.76,2.86,-18.6,2.69,-18.67,2.56,-19.04,2.33,-19.44,2.28,-20.06,2.36,-20.67,2.47,-21.03,2.69]],
  [3, [-21.05,2.83,-20.85,2.97,-19.93,3.08,-19.19,2.97,-18.76,2.81,-18.7,2.64,-18.82,2.5,-19.19,2.34,-19.5,2.31,-20.11,2.39,-20.72,2.53]],
  [4, [-21.0,2.83,-20.79,2.96,-19.93,3.04,-19.19,2.93,-18.82,2.78,-18.77,2.64,-18.91,2.47,-19.25,2.38,-19.56,2.34,-20.11,2.43,-20.66,2.57]],
  [5, [-20.9,2.83,-20.69,2.93,-19.93,3.01,-19.26,2.9,-18.85,2.75,-18.81,2.64,-18.95,2.51,-19.31,2.42,-19.62,2.39,-20.11,2.47,-20.6,2.61]],
  [6, [-20.8,2.83,-20.6,2.9,-19.93,2.97,-19.31,2.86,-18.91,2.72,-18.88,2.61,-19.04,2.53,-19.37,2.46,-19.65,2.44,-20.11,2.53,-20.54,2.66]],
  [7, [-20.69,2.82,-20.48,2.88,-19.93,2.93,-19.37,2.83,-18.98,2.69,-18.98,2.58,-19.37,2.49,-19.74,2.5,-20.17,2.58,-20.51,2.71]],
  [8, [-20.51,2.81,-20.23,2.86,-19.87,2.9,-19.44,2.78,-19.04,2.67,-19.07,2.58,-19.37,2.53,-19.74,2.54,-20.14,2.64]],
  [9, [-20.31,2.81,-19.83,2.84,-19.47,2.72,-19.25,2.64,-19.34,2.58,-19.74,2.61,-20.14,2.69]],
  [9, [-20.11,2.75,-19.87,2.81,-19.62,2.68,-19.37,2.61,-19.77,2.66]]
];

var levelColors = ["#FFC68F", "#FF9520", "#FF6500", "#F03000", "#C80000", "#A00000", "#7C0000", "#560000", "#2C0000", "#000000"];
var lineColors = ["#FF9A80", "#FF8A50", "#FF7A40", "#FF7A50", "#F08A68", "#F08A68", "#E89478", "#E89478", "#E89478", "#F08A60"];

var magTicksUpper = [-22, -21, -20, -19];
var magTicksLower = [-22, -21, -20, -19, -18];
var colourTicks = [1, 1.5, 2, 2.5, 3, 3.5];
var titles = ["No C cut", "C \u2265 2.5"];

// Panels: [contours, name, left, top, height, mag max, show x labels]
var panels = [
  [fieldAll, "Field", 73, 28, 164, -18.1, 0],
  [fieldCut, "Field", 332, 28, 164, -18.1, 0],
  [lowAll, "Low mass LGs", 73, 193, 163, -18.1, 0],
  [lowCut, "Low mass LGs", 332, 193, 163, -18.1, 0],
  [highAll, "High mass LGs", 73, 358, 164, -18.1, 0],
  [highCut, "High mass LGs", 332, 358, 164, -18.1, 0],
  [compactAll, "Compact Groups", 73, 523, 164, -18.1, 1],
  [compactCut, "Compact Groups", 332, 523, 164, -18.1, 1],
  [eqlLgAll, "EQL LGs", 73, 819, 165, -17.6, 0],
  [eqlLgCut, "EQL LGs", 332, 819, 165, -18.1, 0],
  [eqlCgAll, "EQL CGs", 73, 984, 164, -17.6, 1],
  [eqlCgCut, "EQL CGs", 332, 984, 164, -17.6, 1]
];

var panelWidth = 259;

var svg = d3.select("#chart")
  .append("svg")
  .attr("width", 610)
  .attr("height", 1196);

var defs = svg.append("defs");

var contourLine = d3.line()
  .x(d => d.x)
  .y(d => d.y)
  .curve(d3.curveCatmullRomClosed.alpha(0.5));

panels.forEach(function(p, i) {
  var contours = p[0], name = p[1], left = p[2], top = p[3], height = p[4], magMax = p[5], showX = p[6];
  var isLeft = left < 100;

  var x = d3.scaleLinear().domain([-22.4, magMax]).range([0, panelWidth]);
  var y = d3.scaleLinear().domain([0.78, 3.52]).range([height, 0]);

  var g = svg.append("g").attr("transform", `translate(${left}, ${top})`);

  defs.append("clipPath").attr("id", "clip" + i)
    .append("rect").attr("width", panelWidth).attr("height", height);

  g.append("rect").attr("width", panelWidth).attr("height", height).attr("fill", "#FFFDFB");

  // Filled contours, lighter first
  var fills = g.append("g").attr("clip-path", `url(#clip${i})`);
  contours.forEach(function(c) {
    var pts = [];
    for (var k = 0; k < c[1].length; k += 2) {
      pts.push({ x: x(c[1][k]), y: y(c[1][k + 1]) });
    }
    fills.append("path")
      .attr("d", contourLine(pts))
      .attr("fill", levelColors[c[0]])
      .attr("stroke", lineColors[c[0]])
      .attr("stroke-width", 1);
  });

  var magTicks = magMax > -18 ? magTicksLower : magTicksUpper;

  // Dotted grid on top of the contours
  var gridX = g.append("g").attr("transform", `translate(0, ${height})`)
    .call(d3.axisBottom(x).tickValues(magTicks).tickSize(-height).tickFormat(""));
  var gridY = g.append("g")
    .call(d3.axisLeft(y).tickValues(colourTicks).tickSize(-panelWidth).tickFormat(""));
  [gridX, gridY].forEach(function(a) {
    a.select(".domain").remove();
    a.selectAll("line").attr("stroke", "#B4B0AC").attr("stroke-width", 1).attr("stroke-dasharray", "1.5,2.5");
  });

  var minorMag = d3.range(-22.4, magMax, 0.2);
  var minorColour = d3.range(0.8, 3.51, 0.1);

  // Minor ticks, all four sides
  g.append("g").attr("class", "minor").attr("transform", `translate(0, ${height})`)
    .call(d3.axisBottom(x).tickValues(minorMag).tickSize(-3.5).tickFormat("").tickSizeOuter(0));
  g.append("g").attr("class", "minor")
    .call(d3.axisTop(x).tickValues(minorMag).tickSize(-3.5).tickFormat("").tickSizeOuter(0));
  g.append("g").attr("class", "minor")
    .call(d3.axisLeft(y).tickValues(minorColour).tickSize(-3.5).tickFormat("").tickSizeOuter(0));
  g.append("g").attr("class", "minor").attr("transform", `translate(${panelWidth}, 0)`)
    .call(d3.axisRight(y).tickValues(minorColour).tickSize(-3.5).tickFormat("").tickSizeOuter(0));

  // Major ticks and frame
  g.append("g").attr("class", "major tick-label").attr("transform", `translate(0, ${height})`)
    .call(d3.axisBottom(x).tickValues(magTicks).tickSize(-7).tickPadding(8).tickSizeOuter(0)
      .tickFormat(showX ? d3.format(".1f") : ""));
  g.append("g").attr("class", "major")
    .call(d3.axisTop(x).tickValues(magTicks).tickSize(-7).tickFormat("").tickSizeOuter(0));
  g.append("g").attr("class", "major tick-label")
    .call(d3.axisLeft(y).tickValues(colourTicks).tickSize(-7).tickPadding(8).tickSizeOuter(0)
      .tickFormat(isLeft ? d3.format(".1f") : ""));
  g.append("g").attr("class", "major").attr("transform", `translate(${panelWidth}, 0)`)
    .call(d3.axisRight(y).tickValues(colourTicks).tickSize(-7).tickFormat("").tickSizeOuter(0));

  g.selectAll(".minor line").attr("stroke", "#000").attr("stroke-width", 1);
  g.selectAll(".minor .domain").remove();
  g.selectAll(".major line").attr("stroke", "#000").attr("stroke-width", 1.3);
  g.selectAll(".major .domain").attr("stroke", "#000").attr("stroke-width", 2);

  // Panel name
  g.append("text").attr("class", "panel-name")
    .attr("x", 4.5).attr("y", height - 7)
    .text(name);

  // y axis title
  if (isLeft) {
    var yTitle = g.append("text").attr("class", "axis-title")
      .attr("transform", `translate(-42, ${height / 2 + 1}) rotate(-90)`)
      .attr("text-anchor", "middle");
    yTitle.append("tspan").attr("font-size", 12).attr("dy", -6).text("0.1");
    yTitle.append("tspan").attr("dy", 6).text("(");
    yTitle.append("tspan").attr("font-style", "italic").text("u");
    yTitle.append("tspan").text("\u2009\u2212\u2009");
    yTitle.append("tspan").attr("font-style", "italic").text("r");
    yTitle.append("tspan").text(")");
  }

  // x axis title
  if (showX) {
    var xTitle = g.append("text").attr("class", "axis-title")
      .attr("x", panelWidth / 2).attr("y", height + 41)
      .attr("text-anchor", "middle");
    xTitle.append("tspan").attr("font-style", "italic").text("M");
    xTitle.append("tspan").attr("font-size", 8).attr("dy", 2).attr("font-weight", "bold").text("0.1");
    xTitle.append("tspan").attr("font-size", 10).attr("dy", 2).attr("font-style", "italic").text("r");
    xTitle.append("tspan").attr("dy", -4).text("\u2009\u22125\u2009log(");
    xTitle.append("tspan").attr("font-style", "italic").text("h");
    xTitle.append("tspan").text(")");
  }
});

// Column titles above both figures
[17, 808].forEach(function(yPos) {
  titles.forEach(function(t, i) {
    svg.append("text").attr("class", "title")
      .attr("x", i == 0 ? 199 : 463).attr("y", yPos)
      .attr("text-anchor", "middle")
      .text(t);
  });
});
</script>
</body>
</html>
